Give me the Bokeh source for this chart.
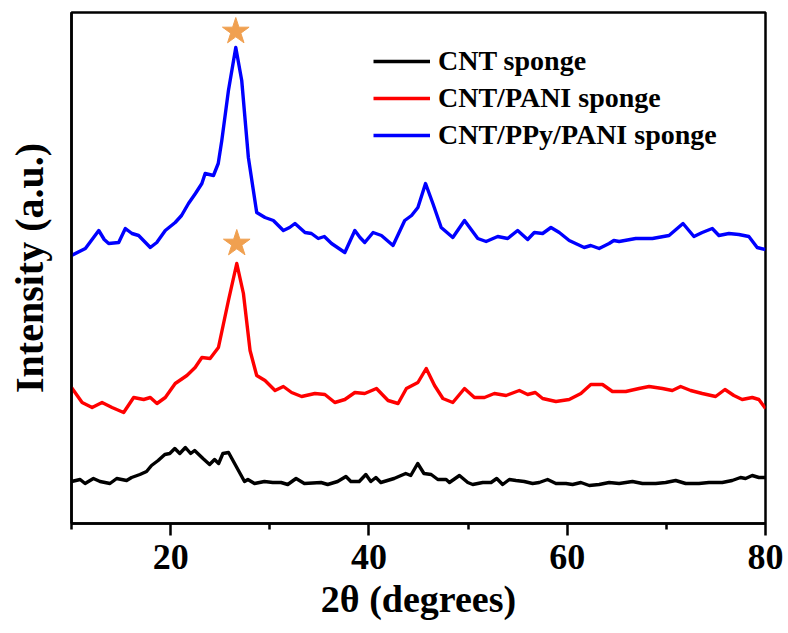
from bokeh.plotting import figure
from bokeh.models import ColumnDataSource, FixedTicker, Range1d, Legend, LegendItem
from bokeh.embed import file_html
from bokeh.resources import INLINE

# ---- data (2θ in degrees, intensity in arbitrary units, offset-stacked) ----
CNT_X = [10.0, 10.87, 11.37, 12.21, 12.88, 13.88, 14.56, 15.56, 16.06, 16.9, 17.57, 18.07, 18.74,
         19.41, 19.91, 20.42, 20.92, 21.49, 22.02, 22.42, 23.26, 23.93, 24.43, 24.84, 25.27, 25.84,
         26.45, 27.45, 27.79, 28.46, 29.46, 30.3, 31.14, 31.81, 32.65, 33.49, 35.17, 35.84, 36.84,
         37.68, 38.18, 39.02, 39.69, 40.19, 40.7, 41.2, 42.54, 43.71, 44.22, 44.92, 45.55, 46.28,
         46.95, 47.79, 48.12, 49.13, 49.97, 50.47, 51.48, 52.32, 52.89, 53.49, 54.16, 54.83, 55.67,
         56.51, 57.18, 58.02, 58.86, 59.87, 60.54, 61.38, 62.22, 63.22, 64.23, 65.24, 66.58, 67.59,
         68.93, 69.93, 70.94, 71.95, 73.29, 74.29, 75.64, 76.64, 77.48, 77.99, 78.66, 79.33, 80.0]
CNT_Y = [42, 44, 40, 45, 42, 40, 45, 43, 46, 49, 52, 58, 63,
         69, 70, 75, 70, 76, 70, 73, 65, 59, 64, 60, 70, 71,
         60, 42, 44, 40, 42, 41, 41, 39, 45, 40, 41, 39, 42,
         47, 42, 42, 49, 42, 46, 41, 45, 50, 48, 60, 50, 49,
         44, 44, 41, 48, 41, 39, 41, 41, 45, 39, 44, 43, 42,
         40, 41, 44, 40, 40, 39, 41, 38, 39, 41, 40, 42, 40,
         40, 41, 43, 40, 40, 41, 41, 43, 46, 45, 48, 46, 46]

PANI_X = [10.0, 11.07, 12.08, 13.08, 14.09, 15.26, 16.27, 17.28, 17.95, 18.62, 19.46, 20.46, 21.64,
          22.47, 23.15, 23.98, 24.82, 25.83, 26.67, 27.34, 28.01, 28.68, 29.52, 30.53, 31.37, 32.2,
          33.21, 34.55, 35.56, 36.56, 37.57, 38.58, 39.58, 40.76, 41.93, 42.94, 43.78, 44.94, 45.78,
          46.62, 47.46, 48.46, 49.64, 50.64, 51.65, 52.65, 53.83, 55.17, 56.01, 56.78, 57.52, 58.86,
          60.2, 61.38, 62.38, 63.56, 64.56, 65.91, 67.25, 68.26, 69.6, 70.6, 71.44, 72.45, 73.62,
          74.97, 75.91, 76.81, 77.65, 78.66, 79.33, 80.0]
PANI_Y = [136, 121, 116, 121, 116, 111, 126, 124, 126, 120, 126, 140, 148,
          156, 166, 165, 176, 223, 260, 230, 173, 148, 143, 133, 137, 131,
          127, 130, 129, 121, 124, 131, 130, 135, 123, 120, 135, 141, 155,
          138, 125, 121, 135, 126, 126, 130, 128, 133, 129, 131, 125, 122,
          124, 130, 139, 139, 132, 132, 135, 137, 135, 133, 137, 133, 130,
          127, 134, 128, 124, 126, 124, 115]

PPY_X = [10.0, 11.4, 12.75, 13.3, 13.75, 14.76, 15.43, 16.1, 16.77, 17.95, 18.6, 19.46, 20.46, 21.1,
         21.8, 22.5, 23.15, 23.48, 24.32, 24.8, 25.16, 25.83, 26.57, 27.17, 27.84, 28.68, 29.52,
         30.36, 31.37, 32.0, 32.54, 33.55, 34.2, 34.89, 35.5, 36.23, 37.57, 38.58, 39.1, 39.58,
         40.42, 41.26, 42.43, 43.61, 44.3, 44.94, 45.71, 46.45, 47.29, 48.46, 49.64, 50.98, 51.82,
         52.99, 54.0, 55.0, 56.01, 56.68, 57.52, 58.36, 59.2, 60.2, 61.71, 62.38, 63.22, 64.23,
         64.7, 65.24, 66.91, 68.59, 70.27, 71.68, 72.78, 73.62, 74.63, 75.3, 76.31, 77.31, 78.32,
         79.16, 80.0]
PPY_Y = [268, 275, 293, 284, 280, 281, 295, 290, 288, 276, 281, 293, 301, 308,
         320, 330, 340, 350, 348, 360, 383, 433, 476, 443, 366, 311, 306,
         303, 293, 296, 300, 291, 290, 285, 287, 280, 271, 293, 286, 281,
         291, 288, 278, 303, 308, 316, 340, 320, 296, 286, 303, 285, 282,
         287, 285, 293, 284, 291, 290, 296, 291, 283, 276, 278, 275, 280,
         283, 282, 285, 285, 288, 300, 287, 291, 295, 288, 290, 289, 287,
         276, 274]

SERIES_NAMES = ["CNT sponge", "CNT/PANI sponge", "CNT/PPy/PANI sponge"]
SERIES_COLORS = ["#000000", "#ff0000", "#0000ff"]
X_TICKS = [20, 40, 60, 80]
X_MINOR = [10, 30, 50, 70]

FONT = "Liberation Serif"

p = figure(frame_width=694, frame_height=511, output_backend="svg", toolbar_location=None,
           x_range=Range1d(10, 80), y_range=Range1d(0, 511),
           min_border_left=71, min_border_right=23, min_border_top=12, min_border_bottom=110)
p.background_fill_color = "white"
p.border_fill_color = "white"
p.grid.visible = False
p.outline_line_color = "black"
p.outline_line_width = 2.5

renderers = []
for xs, ys, color in [(CNT_X, CNT_Y, SERIES_COLORS[0]),
                      (PANI_X, PANI_Y, SERIES_COLORS[1]),
                      (PPY_X, PPY_Y, SERIES_COLORS[2])]:
    src = ColumnDataSource(dict(x=xs, y=ys))
    r = p.line("x", "y", source=src, line_color=color, line_width=3.4, line_join="round")
    renderers.append(r)

# stars above the main (002) peaks of the composite sponges
star_x, star_y = [], []
for xs, ys, off in [(PANI_X, PANI_Y, 20), (PPY_X, PPY_Y, 16)]:
    i = ys.index(max(ys))
    star_x.append(xs[i])
    star_y.append(ys[i] + off)
p.scatter(star_x, star_y, marker="star", size=28, fill_color="#f0a050", line_color="#f0a050")

legend = Legend(items=[LegendItem(label=n, renderers=[r]) for n, r in zip(SERIES_NAMES, renderers)],
                location=(302, 372))
legend.border_line_color = None
legend.background_fill_alpha = 0
legend.padding = 0
legend.margin = 0
legend.spacing = 5
legend.glyph_width = 57
legend.glyph_height = 30
legend.label_height = 30
legend.label_standoff = 8
legend.label_text_font = FONT
legend.label_text_font_style = "bold"
legend.label_text_font_size = "28px"
legend.label_text_color = "black"
p.add_layout(legend, "center")

xa = p.xaxis[0]
xa.ticker = FixedTicker(ticks=X_TICKS, minor_ticks=X_MINOR)
xa.axis_line_width = 2.5
xa.major_tick_line_width = 2.5
xa.minor_tick_line_width = 2.5
xa.major_tick_out = 12
xa.major_tick_in = 0
xa.minor_tick_out = 6
xa.minor_tick_in = 0
xa.major_label_text_font = FONT
xa.major_label_text_font_style = "bold"
xa.major_label_text_font_size = "36px"
xa.major_label_text_color = "black"
xa.major_label_standoff = 9
xa.axis_label = "2θ (degrees)"
xa.axis_label_text_font = FONT
xa.axis_label_text_font_style = "bold"
xa.axis_label_text_font_size = "38px"
xa.axis_label_text_color = "black"
xa.axis_label_standoff = 6

ya = p.yaxis[0]
ya.ticker = FixedTicker(ticks=[])
ya.axis_line_width = 2.5
ya.major_tick_out = 0
ya.major_tick_in = 0
ya.minor_tick_out = 0
ya.minor_tick_in = 0
ya.major_label_text_font_size = "1px"
ya.major_label_text_color = None
ya.axis_label = "Intensity (a.u.)"
ya.axis_label_text_font = FONT
ya.axis_label_text_font_style = "bold"
ya.axis_label_text_font_size = "40px"
ya.axis_label_text_color = "black"
ya.axis_label_standoff = 20

open("out.html", "w").write(file_html(p, INLINE))
